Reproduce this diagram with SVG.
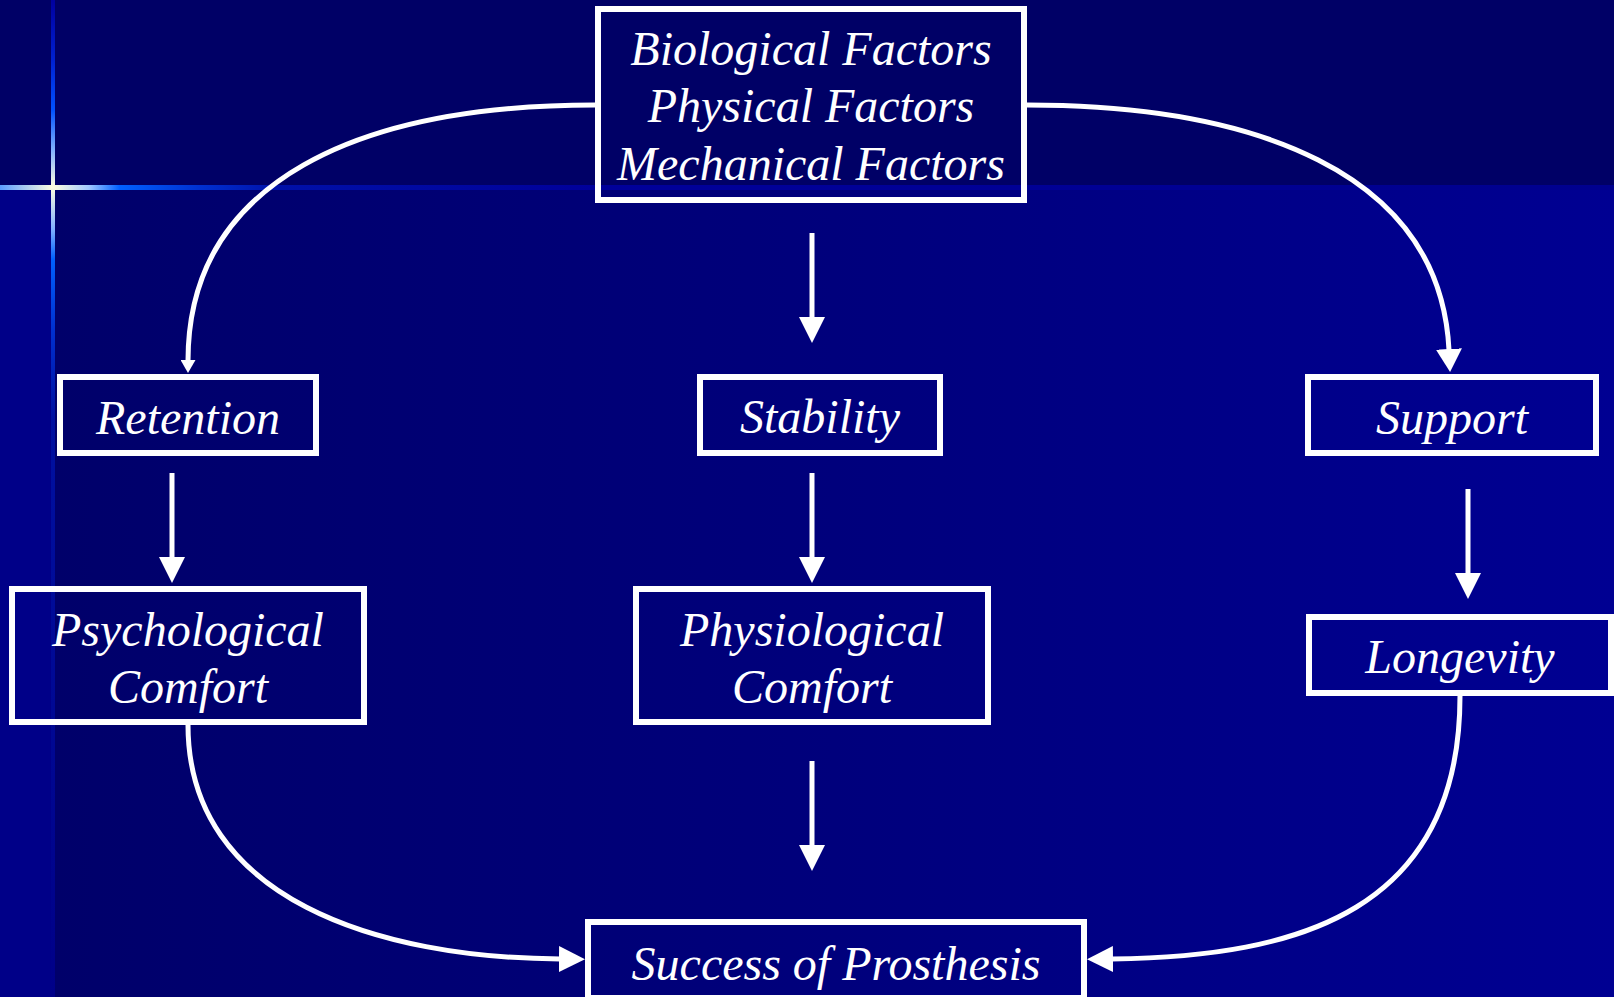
<svg xmlns="http://www.w3.org/2000/svg" width="1614" height="997" viewBox="0 0 1614 997">
  <defs>
    <style>
      .box { fill: none; stroke: #ffffff; stroke-width: 6; }
      .t { font-family: "Liberation Serif", "Times New Roman", serif; font-style: italic; font-size: 48px; fill: #ffffff; text-anchor: middle; }
      .c { fill: none; stroke: #ffffff; stroke-width: 5; }
    </style>
    <linearGradient id="lowBg" x1="53" y1="0" x2="1614" y2="0" gradientUnits="userSpaceOnUse">
      <stop offset="0" stop-color="#00006a"/>
      <stop offset="0.5" stop-color="#00007c"/>
      <stop offset="1" stop-color="#000092"/>
    </linearGradient>
    <linearGradient id="hLine" x1="0" y1="0" x2="1614" y2="0" gradientUnits="userSpaceOnUse">
      <stop offset="0" stop-color="#5a9cff"/>
      <stop offset="0.033" stop-color="#ffffe0"/>
      <stop offset="0.055" stop-color="#a0c8ff"/>
      <stop offset="0.074" stop-color="#0060ff"/>
      <stop offset="0.124" stop-color="#0030d0"/>
      <stop offset="0.173" stop-color="#0010a8"/>
      <stop offset="0.37" stop-color="#00009a"/>
      <stop offset="1" stop-color="#00008e"/>
    </linearGradient>
    <linearGradient id="vLine" x1="0" y1="0" x2="0" y2="997" gradientUnits="userSpaceOnUse">
      <stop offset="0" stop-color="#0000a0"/>
      <stop offset="0.06" stop-color="#0020d0"/>
      <stop offset="0.11" stop-color="#0050ff"/>
      <stop offset="0.15" stop-color="#80b0ff"/>
      <stop offset="0.1876" stop-color="#ffffe0"/>
      <stop offset="0.23" stop-color="#80b0ff"/>
      <stop offset="0.26" stop-color="#0060ff"/>
      <stop offset="0.33" stop-color="#0030d0"/>
      <stop offset="0.42" stop-color="#0010a0"/>
      <stop offset="1" stop-color="#000088"/>
    </linearGradient>
    <marker id="ah" markerUnits="userSpaceOnUse" markerWidth="26" markerHeight="26" viewBox="0 0 26 26" refX="1" refY="13" orient="auto">
      <path d="M0,0 L26,13 L0,26 Z" fill="#ffffff"/>
    </marker>
    <marker id="ah2" markerUnits="userSpaceOnUse" markerWidth="23" markerHeight="26" viewBox="0 0 23 26" refX="1" refY="13" orient="auto">
      <path d="M0,0 L23,13 L0,26 Z" fill="#ffffff"/>
    </marker>
    <marker id="ahs" markerUnits="userSpaceOnUse" markerWidth="13" markerHeight="15" viewBox="0 0 13 15" refX="1" refY="7.5" orient="auto">
      <path d="M0,0 L13,7.5 L0,15 Z" fill="#ffffff"/>
    </marker>
  </defs>

  <g id="background">
    <rect x="0" y="0" width="1614" height="997" fill="#000066"/>
    <rect x="0" y="188" width="1614" height="809" fill="url(#lowBg)"/>
    <rect x="0" y="188" width="53" height="809" fill="#000088"/>
    <rect x="0" y="185" width="1614" height="5" fill="url(#hLine)"/>
    <rect x="51" y="0" width="4" height="997" fill="url(#vLine)"/>
  </g>

  <g id="connectors">
    <line class="c" x1="812" y1="233" x2="812" y2="318" marker-end="url(#ah)"/>
    <line class="c" x1="812" y1="473" x2="812" y2="558" marker-end="url(#ah)"/>
    <line class="c" x1="812" y1="761" x2="812" y2="846" marker-end="url(#ah)"/>
    <line class="c" x1="172" y1="473" x2="172" y2="558" marker-end="url(#ah)"/>
    <line class="c" x1="1468" y1="489" x2="1468" y2="574" marker-end="url(#ah)"/>
    <path class="c" d="M595,105 C360,105 188,180 188,361" marker-end="url(#ahs)"/>
    <path class="c" d="M1027,105 C1250,105 1440,170 1449,350" marker-end="url(#ah2)"/>
    <path class="c" d="M188,725 C188,900 380,958 560,959" marker-end="url(#ah)"/>
    <path class="c" d="M1460,696 C1460,910 1300,957 1112,959" marker-end="url(#ah)"/>
  </g>

  <g id="node-factors">
    <rect class="box" x="598" y="9" width="426" height="191"/>
    <text class="t" x="811" y="65">Biological Factors</text>
    <text class="t" x="811" y="122">Physical Factors</text>
    <text class="t" x="811" y="180">Mechanical Factors</text>
  </g>
  <g id="node-retention">
    <rect class="box" x="60" y="377" width="256" height="76"/>
    <text class="t" x="188" y="434">Retention</text>
  </g>
  <g id="node-stability">
    <rect class="box" x="700" y="377" width="240" height="76"/>
    <text class="t" x="820" y="433">Stability</text>
  </g>
  <g id="node-support">
    <rect class="box" x="1308" y="377" width="288" height="76"/>
    <text class="t" x="1452" y="434">Support</text>
  </g>
  <g id="node-psychological">
    <rect class="box" x="12" y="589" width="352" height="133"/>
    <text class="t" x="188" y="646">Psychological</text>
    <text class="t" x="188" y="703">Comfort</text>
  </g>
  <g id="node-physiological">
    <rect class="box" x="636" y="589" width="352" height="133"/>
    <text class="t" x="812" y="646">Physiological</text>
    <text class="t" x="812" y="703">Comfort</text>
  </g>
  <g id="node-longevity">
    <rect class="box" x="1309" y="617" width="302" height="76"/>
    <text class="t" x="1460" y="673">Longevity</text>
  </g>
  <g id="node-success">
    <rect class="box" x="588" y="922" width="496" height="76"/>
    <text class="t" x="836" y="980">Success of Prosthesis</text>
  </g>
</svg>
